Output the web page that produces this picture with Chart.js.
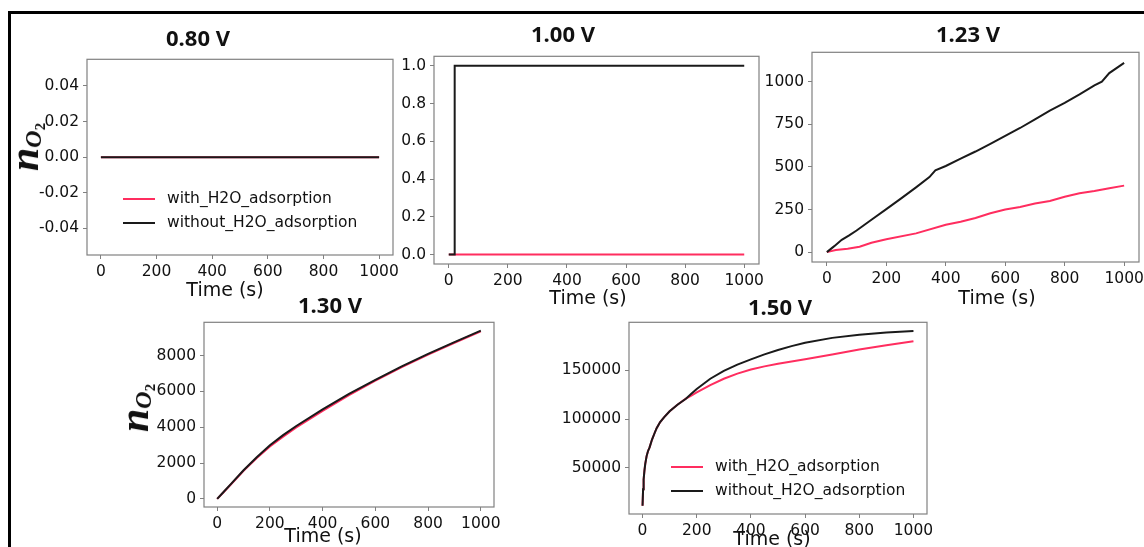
<!DOCTYPE html>
<html lang="en">
<head>
<meta charset="UTF-8">
<title>n_O2 vs time</title>
<script src="https://cdn.jsdelivr.net/npm/chart.js"></script>
<style>
    body {
        margin: 0;
        background: #fff;
        width: 1144px;
        height: 547px;
        overflow: hidden;
        position: relative;
        font-family: "DejaVu Sans", sans-serif;
        color: #111;
    }
    .frame {
        position: absolute;
        left: 8px;
        top: 11px;
        width: 1150px;
        height: 560px;
        border-left: 3px solid #000;
        border-top: 3px solid #000;
    }
    canvas { position: absolute; }
    .title {
        position: absolute;
        font-family: "Open Sans", sans-serif;
        font-weight: 700;
        font-size: 22px;
        transform: translate(-50%, -50%);
        white-space: nowrap;
    }
    .xlab {
        position: absolute;
        font-size: 19px;
        transform: translate(-50%, -50%);
        white-space: nowrap;
    }
    .ylab {
        position: absolute;
        font-family: "Liberation Serif", serif;
        font-style: italic;
        font-weight: 700;
        font-size: 42px;
        line-height: 42px;
        height: 42px;
        transform: translate(-50%, -50%) rotate(-90deg);
        white-space: nowrap;
    }
    .ylab .s1 { font-size: 24px; position: relative; top: 3px; }
    .ylab .s2 { font-size: 15px; font-style: normal; position: relative; top: 4px; }
    .legend { position: absolute; font-size: 15.5px; }
    .legend div { height: 24px; line-height: 24px; white-space: nowrap; }
    .legend span {
        display: inline-block;
        width: 32px;
        height: 2px;
        vertical-align: middle;
        margin-right: 12px;
    }
</style>
</head>
<body>
<div class="frame"></div>

<canvas id="c080"></canvas>
<canvas id="c100"></canvas>
<canvas id="c123"></canvas>
<canvas id="c130"></canvas>
<canvas id="c150"></canvas>

<div class="title" style="left:198px; top:37px;">0.80 V</div>
<div class="title" style="left:563px; top:33px;">1.00 V</div>
<div class="title" style="left:968px; top:33px;">1.23 V</div>
<div class="title" style="left:330px; top:304px;">1.30 V</div>
<div class="title" style="left:780px; top:306px;">1.50 V</div>

<div class="xlab" style="left:225px; top:289px;">Time (s)</div>
<div class="xlab" style="left:588px; top:297px;">Time (s)</div>
<div class="xlab" style="left:997px; top:297px;">Time (s)</div>
<div class="xlab" style="left:323px; top:535px;">Time (s)</div>
<div class="xlab" style="left:772px; top:538px;">Time (s)</div>

<div class="ylab" style="left:24px; top:147px;">n<span class="s1">O<span class="s2">2</span></span></div>
<div class="ylab" style="left:134px; top:408px;">n<span class="s1">O<span class="s2">2</span></span></div>

<div class="legend" style="left:123px; top:186px;">
    <div><span style="background:#ff2d5f"></span>with_H2O_adsorption</div>
    <div><span style="background:#1a1a1a"></span>without_H2O_adsorption</div>
</div>
<div class="legend" style="left:671px; top:454px;">
    <div><span style="background:#ff2d5f"></span>with_H2O_adsorption</div>
    <div><span style="background:#1a1a1a"></span>without_H2O_adsorption</div>
</div>

<script>
    const RED = '#ff2d5f';
    const BLACK = '#1a1a1a';

    const xTicks = [0, 200, 400, 600, 800, 1000];

    // 0.80 V
    const t080 = [0, 1000];
    const with080 = [0, 0];
    const without080 = [0, 0];
    const yTicks080 = [-0.04, -0.02, 0, 0.02, 0.04];

    // 1.00 V
    const tWith100 = [0, 1000];
    const with100 = [0, 0];
    const tWithout100 = [0, 20, 20, 1000];
    const without100 = [0, 0, 1, 1];
    const yTicks100 = [0, 0.2, 0.4, 0.6, 0.8, 1.0];

    // 1.23 V
    const tWith123 = [0, 30, 70, 110, 150, 200, 300, 400, 450, 500, 550, 600, 650, 700, 750, 800, 850, 900, 950, 1000];
    const with123 = [0, 12, 20, 32, 55, 75, 110, 160, 178, 200, 228, 250, 265, 285, 300, 325, 345, 358, 375, 390];
    const tWithout123 = [0, 25, 50, 75, 100, 150, 200, 250, 300, 345, 365, 400, 450, 500, 550, 600, 650, 700, 750, 800, 850, 900, 925, 950, 1000];
    const without123 = [0, 35, 72, 98, 127, 190, 252, 315, 380, 440, 480, 505, 548, 590, 635, 682, 728, 778, 830, 875, 925, 978, 1000, 1050, 1110];
    const yTicks123 = [0, 250, 500, 750, 1000];

    // 1.30 V
    const t130 = [0, 25, 50, 100, 150, 200, 250, 300, 400, 500, 600, 700, 800, 900, 1000];
    const with130 = [0, 390, 780, 1570, 2280, 2930, 3480, 3990, 4920, 5800, 6600, 7360, 8060, 8720, 9350];
    const without130 = [0, 400, 800, 1600, 2330, 3000, 3560, 4070, 5000, 5870, 6650, 7400, 8100, 8750, 9400];
    const yTicks130 = [0, 2000, 4000, 6000, 8000];

    // 1.50 V
    const t150 = [0, 2, 4, 7, 10, 15, 20, 26, 35, 45, 52, 65, 80, 100, 130, 160, 180, 200, 250, 300, 350, 400, 450, 500, 550, 600, 700, 800, 900, 1000];
    const with150 = [11000, 28000, 38000, 47000, 54000, 62000, 67000, 71000, 79000, 86000, 90700, 97000, 102000, 108000, 115000, 121000, 124200, 127500, 135000, 141500, 146800, 151000, 154200, 157000, 159300, 161500, 166500, 171500, 176000, 180000];
    const without150 = [11000, 28000, 38000, 47000, 54000, 62000, 67000, 71000, 79000, 86000, 90700, 97000, 102000, 108000, 115000, 121000, 126000, 131000, 141500, 149500, 156000, 161400, 166500, 171000, 175000, 178500, 183500, 186800, 189000, 190500];
    const yTicks150 = [50000, 100000, 150000];

    function pts(t, y) {
        return t.map((v, i) => ({ x: v, y: y[i] }));
    }

    // matplotlib style frame around the plot area
    const boxPlugin = {
        id: 'box',
        afterDraw(chart) {
            const a = chart.chartArea, g = chart.ctx;
            g.save();
            g.strokeStyle = '#808080';
            g.lineWidth = 1.2;
            g.strokeRect(a.left, a.top, a.right - a.left, a.bottom - a.top);
            g.restore();
        }
    };

    function panel(id, box, xr, yr, yTicks, fmt, withPts, withoutPts) {
        const padL = 90, padT = 10, padR = 40, padB = 32;
        const cv = document.getElementById(id);
        const w = box[2] - box[0] + padL + padR;
        const h = box[3] - box[1] + padT + padB;
        cv.width = w; cv.height = h;
        cv.style.width = w + 'px'; cv.style.height = h + 'px';
        cv.style.left = (box[0] - padL) + 'px';
        cv.style.top = (box[1] - padT) + 'px';

        const tick = { font: { family: 'DejaVu Sans', size: 15.5 }, color: '#111', padding: 4 };
        const grid = { drawOnChartArea: false, tickLength: 4, color: '#808080' };

        new Chart(cv, {
            type: 'line',
            data: {
                datasets: [
                    { label: 'with_H2O_adsorption', data: withPts, borderColor: RED, order: 1 },
                    { label: 'without_H2O_adsorption', data: withoutPts, borderColor: BLACK, order: 0 }
                ]
            },
            options: {
                responsive: false,
                animation: false,
                devicePixelRatio: 1,
                layout: { autoPadding: false, padding: { left: 0, top: padT, right: padR, bottom: 0 } },
                elements: { point: { radius: 0 }, line: { borderWidth: 2, tension: 0 } },
                plugins: { legend: { display: false }, tooltip: { enabled: false } },
                scales: {
                    x: {
                        type: 'linear', min: xr[0], max: xr[1],
                        afterBuildTicks: s => { s.ticks = xTicks.map(v => ({ value: v })); },
                        afterFit: s => { s.height = padB; },
                        ticks: Object.assign({}, tick, { callback: v => String(v) }),
                        grid: grid,
                        border: { display: false }
                    },
                    y: {
                        type: 'linear', min: yr[0], max: yr[1],
                        afterBuildTicks: s => { s.ticks = yTicks.map(v => ({ value: v })); },
                        afterFit: s => { s.width = padL; },
                        ticks: Object.assign({}, tick, { callback: fmt }),
                        grid: grid,
                        border: { display: false }
                    }
                }
            },
            plugins: [boxPlugin]
        });
    }

    const intFmt = v => String(v);

    panel('c080', [87, 56, 393, 255], [-50, 1050], [-0.055, 0.055], yTicks080, v => v.toFixed(2),
        pts(t080, with080), pts(t080, without080));
    panel('c100', [434, 53, 759, 264], [-50, 1050], [-0.05, 1.05], yTicks100, v => v.toFixed(1),
        pts(tWith100, with100), pts(tWithout100, without100));
    panel('c123', [812, 49, 1139, 262], [-50, 1050], [-58, 1172], yTicks123, intFmt,
        pts(tWith123, with123), pts(tWithout123, without123));
    panel('c130', [204, 319, 494, 507], [-50, 1050], [-450, 9860], yTicks130, intFmt,
        pts(t130, with130), pts(t130, without130));
    panel('c150', [629, 319, 927, 514], [-50, 1050], [2500, 199500], yTicks150, intFmt,
        pts(t150, with150), pts(t150, without150));
</script>
</body>
</html>
